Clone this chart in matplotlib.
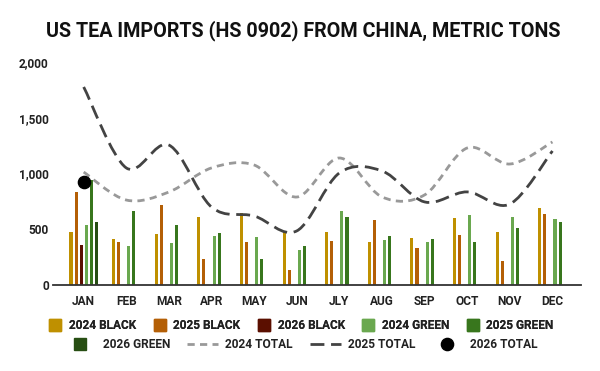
import numpy as np
import matplotlib
matplotlib.use("Agg")
from matplotlib import pyplot as plt
from matplotlib.path import Path
from matplotlib.patches import PathPatch
from matplotlib.lines import Line2D

plt.rcParams['font.family'] = ['Roboto', 'DejaVu Sans']
plt.rcParams['font.weight'] = 'bold'

#----------------
# Data (metric tons)
months = ["JAN", "FEB", "MAR", "APR", "MAY", "JUN", "JLY", "AUG", "SEP", "OCT", "NOV", "DEC"]
black_2024 = [475, 412, 457, 610, 646, 475, 475, 386, 422, 601, 475, 691]
black_2025 = [834, 386, 717, 233, 386, 135, 395, 583, 332, 449, 215, 637]
black_2026 = [356]
green_2024 = [538, 350, 377, 440, 430, 314, 664, 404, 386, 628, 610, 592]
green_2025 = [942, 664, 538, 466, 233, 350, 610, 440, 413, 386, 511, 565]
green_2026 = [565]
yticks = [0, 500, 1000, 1500, 2000]
#----------------

total_2024 = np.add(black_2024, green_2024)
total_2025 = np.add(black_2025, green_2025)
total_2026 = np.add(black_2026, green_2026)

bar_series = [
    ("2024 BLACK", black_2024, "#bf9000"),
    ("2025 BLACK", black_2025, "#b45f06"),
    ("2026 BLACK", black_2026, "#5b0f00"),
    ("2024 GREEN", green_2024, "#6aa84f"),
    ("2025 GREEN", green_2025, "#38761d"),
    ("2026 GREEN", green_2026, "#274e13"),
]

txt = "#222222"
dash_2024 = (0, (2.6, 1.9))
dash_2025 = (0, (5.0, 2.4))


# smooth curve through the points (catmull-rom as cubic bezier segments)
def smooth_path(xs, ys):
    pts = np.column_stack([xs, ys]).astype(float)
    padded = np.vstack([pts[0], pts, pts[-1]])
    verts = [pts[0]]
    codes = [Path.MOVETO]
    for i in range(len(pts) - 1):
        p0, p1, p2, p3 = padded[i], padded[i + 1], padded[i + 2], padded[i + 3]
        verts += [p1 + (p2 - p0) / 6, p2 - (p3 - p1) / 6, p2]
        codes += [Path.CURVE4] * 3
    return Path(verts, codes)


fig = plt.figure(figsize=(6, 3.71), dpi=100)
ax = fig.add_axes([53 / 600, 86 / 371, 528 / 600, 223 / 371])

step = 0.119
for k, (name, vals, col) in enumerate(bar_series):
    x = np.arange(len(vals)) + (k - 2.5) * step
    ax.bar(x, vals, width=0.072, color=col, zorder=2)

xs = np.arange(len(months))
ax.add_patch(PathPatch(smooth_path(xs, total_2024), fill=False, edgecolor="#999999",
                       lw=2.0, ls=dash_2024, zorder=3))
ax.add_patch(PathPatch(smooth_path(xs, total_2025), fill=False, edgecolor="#434343",
                       lw=2.0, ls=dash_2025, zorder=3))
ax.plot(np.arange(len(total_2026)), total_2026, "o", color="black", ms=8.8, zorder=4)

ax.set_xlim(-0.72, 11.67)
ax.set_ylim(0, 2000)
ax.set_xticks(xs)
ax.set_xticklabels(months)
ax.set_yticks(yticks)
ax.set_yticklabels(["{:,}".format(v) for v in yticks])
ax.tick_params(length=0, labelsize=8.6, colors=txt)
ax.tick_params(axis="x", pad=7)
ax.tick_params(axis="y", pad=3)
for s in ["top", "right", "left"]:
    ax.spines[s].set_visible(False)
ax.spines["bottom"].set_color("#333333")
ax.spines["bottom"].set_linewidth(1.3)
ax.spines["bottom"].set_zorder(5)

fig.text(0.505, 1 - 30.5 / 371, "US TEA IMPORTS (HS 0902) FROM CHINA, METRIC TONS",
         ha="center", va="center", fontsize=14.2, color="#111111")

# legend, two centred rows like the original
row1 = [Line2D([], [], ls="none", marker="s", ms=8, color=c) for _, _, c in bar_series[:5]]
leg1 = fig.legend(row1, [n for n, _, _ in bar_series[:5]], loc="center",
                  bbox_to_anchor=(0.503, 1 - 325.5 / 371), ncol=5, frameon=False,
                  fontsize=8.6, handlelength=0.9, handletextpad=0.7, columnspacing=1.5,
                  labelcolor=txt, borderpad=0)
fig.add_artist(leg1)

row2 = [
    Line2D([], [], ls="none", marker="s", ms=8, color=bar_series[5][2]),
    Line2D([], [], color="#999999", lw=2.0, ls=dash_2024),
    Line2D([], [], color="#434343", lw=2.0, ls=dash_2025),
    Line2D([], [], ls="none", marker="o", ms=8.8, color="black"),
]
fig.legend(row2, ["2026 GREEN", "2024 TOTAL", "2025 TOTAL", "2026 TOTAL"], loc="center",
           bbox_to_anchor=(0.502, 1 - 344.5 / 371), ncol=4, frameon=False,
           fontsize=8.6, handlelength=2.6, handletextpad=0.6, columnspacing=1.4,
           labelcolor=txt, borderpad=0)

plt.savefig("out.png", dpi=100)
plt.close()
